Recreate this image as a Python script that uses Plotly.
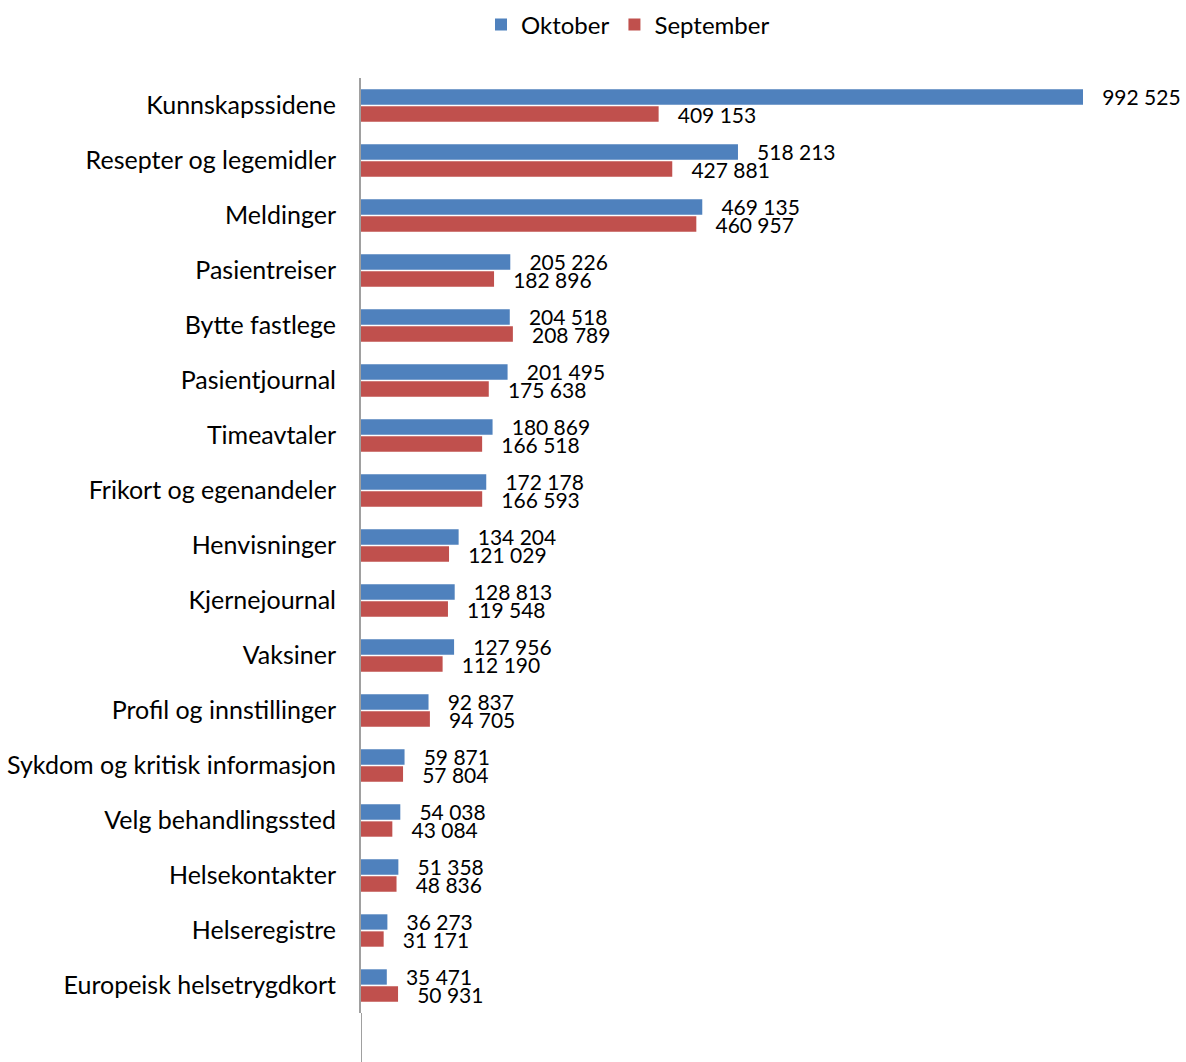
import plotly.graph_objects as go

categories = ["Kunnskapssidene", "Resepter og legemidler", "Meldinger", "Pasientreiser",
              "Bytte fastlege", "Pasientjournal", "Timeavtaler", "Frikort og egenandeler",
              "Henvisninger", "Kjernejournal", "Vaksiner", "Profil og innstillinger",
              "Sykdom og kritisk informasjon", "Velg behandlingssted", "Helsekontakter",
              "Helseregistre", "Europeisk helsetrygdkort"]
oktober = [992525, 518213, 469135, 205226, 204518, 201495, 180869, 172178,
           134204, 128813, 127956, 92837, 59871, 54038, 51358, 36273, 35471]
september = [409153, 427881, 460957, 182896, 208789, 175638, 166518, 166593,
             121029, 119548, 112190, 94705, 57804, 43084, 48836, 31171, 50931]

def fmt(v):
    return "\u00a0\u00a0\u00a0" + f"{v:,}".replace(",", " ")

W, H = 1186, 1062
L, R, T, B = 361, 26, 78, 49
plot_w = W - L - R
xmax = 992525 * plot_w / 722

font = "Lato, 'Liberation Sans', sans-serif"
vfont = dict(size=21, color="#000000", family=font)

fig = go.Figure()
fig.add_trace(go.Bar(y=categories, x=oktober, name="Oktober", orientation="h",
                     marker=dict(color="#4F81BD", line=dict(width=0)),
                     text=[fmt(v) for v in oktober], textposition="outside",
                     constraintext="none", cliponaxis=False, textfont=vfont))
fig.add_trace(go.Bar(y=categories, x=september, name="September", orientation="h",
                     marker=dict(color="#C0504D", line=dict(width=0)),
                     text=[fmt(v) for v in september], textposition="outside",
                     constraintext="none", cliponaxis=False, textfont=vfont))

fig.update_layout(
    width=W, height=H,
    margin=dict(l=L, r=R, t=T, b=B, autoexpand=False),
    paper_bgcolor="white", plot_bgcolor="white",
    barmode="group", bargap=0.38, bargroupgap=0.1,
    font=dict(family=font, size=22, color="#000000"),
    legend=dict(orientation="h", x=628 / W, xanchor="center", xref="container",
                y=1 - 25 / H, yanchor="middle", yref="container",
                font=dict(size=24), itemwidth=30),
)
fig.update_xaxes(range=[0, xmax], showgrid=False, zeroline=False, showticklabels=False,
                 showline=False, ticks="", automargin=False)
fig.update_yaxes(autorange="reversed", showgrid=False, showline=True, linecolor="#A0A0A0",
                 linewidth=2, ticks="", ticklabelstandoff=18, tickfont=dict(size=25),
                 automargin=False)
fig.add_shape(type="line", xref="x", yref="paper", x0=0, x1=0, y0=-B / (H - T - B), y1=0,
              line=dict(color="#A0A0A0", width=2))

fig.write_html("out.html", config={"displayModeBar": False},
               post_script="document.body.style.margin='0';document.body.style.overflow='hidden';")
